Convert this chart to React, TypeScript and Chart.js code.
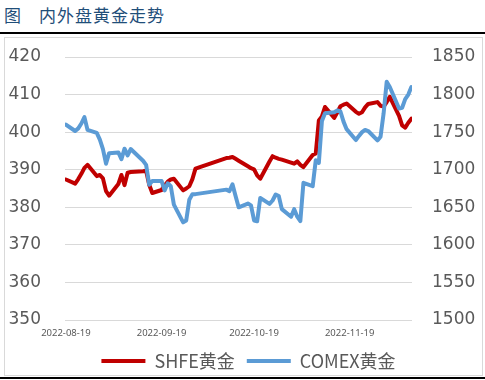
import React, { useEffect, useRef } from "react";
import { Chart, registerables } from "chart.js";

Chart.register(...registerables);

// Trading days (SHFE calendar)
const dates: string[] = [
  "2022-08-19", "2022-08-22", "2022-08-23", "2022-08-24", "2022-08-25", "2022-08-26", "2022-08-29", "2022-08-30", "2022-08-31",
  "2022-09-01", "2022-09-02", "2022-09-05", "2022-09-06", "2022-09-07", "2022-09-08", "2022-09-09", "2022-09-13", "2022-09-14",
  "2022-09-15", "2022-09-16", "2022-09-19", "2022-09-20", "2022-09-21", "2022-09-22", "2022-09-23", "2022-09-26", "2022-09-27",
  "2022-09-28", "2022-09-29", "2022-09-30",
  "2022-10-10", "2022-10-11", "2022-10-12", "2022-10-13", "2022-10-14", "2022-10-17", "2022-10-18", "2022-10-19", "2022-10-20",
  "2022-10-21", "2022-10-24", "2022-10-25", "2022-10-26", "2022-10-27", "2022-10-28", "2022-10-31",
  "2022-11-01", "2022-11-02", "2022-11-03", "2022-11-04", "2022-11-07", "2022-11-08", "2022-11-09", "2022-11-10", "2022-11-11",
  "2022-11-14", "2022-11-15", "2022-11-16", "2022-11-17", "2022-11-18", "2022-11-21", "2022-11-22", "2022-11-23", "2022-11-24",
  "2022-11-25", "2022-11-28", "2022-11-29", "2022-11-30",
  "2022-12-01", "2022-12-02", "2022-12-05", "2022-12-06", "2022-12-07", "2022-12-08", "2022-12-09",
];

// SHFE 黄金 (元/克), left axis
const shfe: number[] = [
  387.4, 386.3, 387.5, 388.9, 390.5, 391.3, 388.3, 388.6, 387.7,
  384.3, 383.1, 386.2, 388.6, 385.9, 389.2, 389.4, 389.6, 389.7,
  386.0, 383.8, 384.6, 385.8, 386.8, 387.4, 387.6, 384.5, 385.0,
  385.6, 387.5, 390.3,
  393.1, 393.2, 393.4, 392.9, 392.4, 390.9, 390.4, 390.1, 388.5,
  387.6, 392.2, 393.6, 393.2, 392.9, 392.7, 391.9,
  391.6, 392.2, 391.3, 390.7, 393.9, 394.3, 403.1, 404.2, 406.7,
  403.8, 405.3, 406.9, 407.3, 407.6, 405.4, 404.9, 405.3, 406.6,
  407.5, 408.0, 407.0, 406.8,
  408.0, 409.4, 404.3, 401.8, 401.2, 402.5, 403.6,
];

// COMEX 黄金 (美元/盎司), right axis
const comex: number[] = [
  1760, 1751.5, 1755, 1761.5, 1770, 1753, 1749, 1740, 1727.5,
  1708, 1722, 1723, 1714, 1728, 1719, 1727.5, 1712, 1706.5,
  1680, 1685, 1685, 1672.5, 1682, 1678, 1653.5, 1630, 1632.5,
  1660, 1667.5, 1667.5,
  1673.5, 1671.5, 1680.5, 1665, 1650, 1655, 1652.5, 1632.5, 1631.5,
  1662.5, 1654.5, 1659, 1667, 1665, 1647.5, 1637.5,
  1647.5, 1637.5, 1631.5, 1682.5, 1678, 1712.5, 1709, 1765, 1775,
  1776.5, 1779, 1777.5, 1764, 1754, 1739.5, 1745, 1750, 1753,
  1751.5, 1739, 1744, 1775,
  1817, 1810, 1781.5, 1782.5, 1794, 1800, 1810,
];

const xTickLabels: string[] = ["2022-08-19", "2022-09-19", "2022-10-19", "2022-11-19"];
const seriesNames: string[] = ["SHFE黄金", "COMEX黄金"];
const leftRange = { min: 350, max: 420, step: 10 };
const rightRange = { min: 1500, max: 1850, step: 50 };

const DAY_MS = 86400000;
const dayOf = (s: string) => (Date.parse(s) - Date.parse(dates[0])) / DAY_MS;
const lastDay = dayOf(dates[dates.length - 1]);

const GRAY = "#595959";

// shifts the legend's centring box a little to the right, as in the original
const legendShift = {
  id: "legendShift",
  afterLayout(chart: any) {
    if (chart.legend) chart.legend.left = 12;
  },
};

export default function App() {
  const canvasRef = useRef<HTMLCanvasElement | null>(null);

  useEffect(() => {
    const canvas = canvasRef.current;
    if (!canvas) return;
    const shfePts = dates.map((d, i) => ({ x: dayOf(d), y: shfe[i] }));
    const comexPts = dates.map((d, i) => ({ x: dayOf(d), y: comex[i] }));

    const chart = new Chart(canvas, {
      type: "line",
      plugins: [legendShift],
      data: {
        datasets: [
          {
            label: seriesNames[1],
            data: comexPts,
            yAxisID: "y1",
            borderColor: "#5B9BD5",
            backgroundColor: "#5B9BD5",
            borderWidth: 4,
            pointRadius: 0,
            borderJoinStyle: "round",
            borderCapStyle: "round",
            tension: 0,
          },
          {
            label: seriesNames[0],
            data: shfePts,
            yAxisID: "y",
            borderColor: "#C00000",
            backgroundColor: "#C00000",
            borderWidth: 4,
            pointRadius: 0,
            borderJoinStyle: "round",
            borderCapStyle: "round",
            tension: 0,
          },
        ],
      },
      options: {
        responsive: false,
        animation: false,
        devicePixelRatio: 1,
        layout: { padding: { left: 0, right: 0, top: 57, bottom: 0 } },
        plugins: {
          tooltip: { enabled: false },
          legend: {
            position: "bottom",
            reverse: true,
            maxHeight: 43,
            labels: {
              boxWidth: 44,
              boxHeight: 4,
              padding: 12,
              color: GRAY,
              font: { family: "'Noto Sans CJK SC', 'Noto Sans'", size: 18 },
              generateLabels: (c: any) =>
                (Chart.defaults.plugins.legend.labels as any)
                  .generateLabels(c)
                  .map((it: any) => ({ ...it, lineWidth: 0 })),
            },
          },
        },
        scales: {
          x: {
            type: "linear",
            min: -0.3,
            max: lastDay + 0.2,
            grid: { display: false, drawTicks: false },
            border: { display: false },
            afterBuildTicks: (s: any) => {
              s.ticks = xTickLabels.map((l) => ({ value: dayOf(l) }));
            },
            afterFit: (s: any) => {
              s.height = 20;
            },
            ticks: {
              autoSkip: false,
              maxRotation: 0,
              padding: 8,
              color: GRAY,
              font: { family: "'Noto Sans'", size: 9.5 },
              callback: (_v: any, i: number) => xTickLabels[i],
            },
          },
          y: {
            position: "left",
            min: leftRange.min,
            max: leftRange.max,
            afterFit: (s: any) => {
              s.width = 65;
            },
            grid: { color: "#D9D9D9", lineWidth: 1, drawTicks: false },
            border: { display: false },
            ticks: {
              stepSize: leftRange.step,
              padding: 24,
              color: GRAY,
              font: { family: "'DejaVu Sans'", size: 17 },
              callback: (v: any) => String(v),
            },
          },
          y1: {
            position: "right",
            min: rightRange.min,
            max: rightRange.max,
            afterFit: (s: any) => {
              s.width = 73;
            },
            grid: { display: false, drawTicks: false },
            border: { display: false },
            ticks: {
              stepSize: rightRange.step,
              padding: 20,
              color: GRAY,
              font: { family: "'DejaVu Sans'", size: 17 },
              callback: (v: any) => String(v),
            },
          },
        },
      },
    } as any);

    return () => chart.destroy();
  }, []);

  return (
    <div style={{ position: "absolute", left: 0, top: 0, width: 485, height: 380, background: "#fff", overflow: "hidden" }}>
      <div
        style={{
          position: "absolute",
          left: 4,
          top: 4,
          fontFamily: "'Noto Sans CJK SC'",
          fontSize: 17,
          lineHeight: "22px",
          color: "#1F4E79",
          whiteSpace: "nowrap",
        }}
      >
        图
      </div>
      <div
        style={{
          position: "absolute",
          left: 39,
          top: 4,
          fontFamily: "'Noto Sans CJK SC'",
          fontSize: 17,
          lineHeight: "22px",
          letterSpacing: 1,
          color: "#1F4E79",
          whiteSpace: "nowrap",
        }}
      >
        内外盘黄金走势
      </div>
      <div style={{ position: "absolute", left: 0, top: 32, width: 485, height: 2, background: "#000" }} />
      <div
        style={{
          position: "absolute",
          left: 4,
          top: 37,
          width: 479,
          height: 339,
          boxSizing: "border-box",
          border: "1px solid #D9D9D9",
        }}
      />
      <div style={{ position: "absolute", left: 0, top: 377, width: 485, height: 2, background: "#000" }} />
      <canvas
        ref={canvasRef}
        width={485}
        height={380}
        style={{ position: "absolute", left: 0, top: 0, width: 485, height: 380 }}
      />
    </div>
  );
}
